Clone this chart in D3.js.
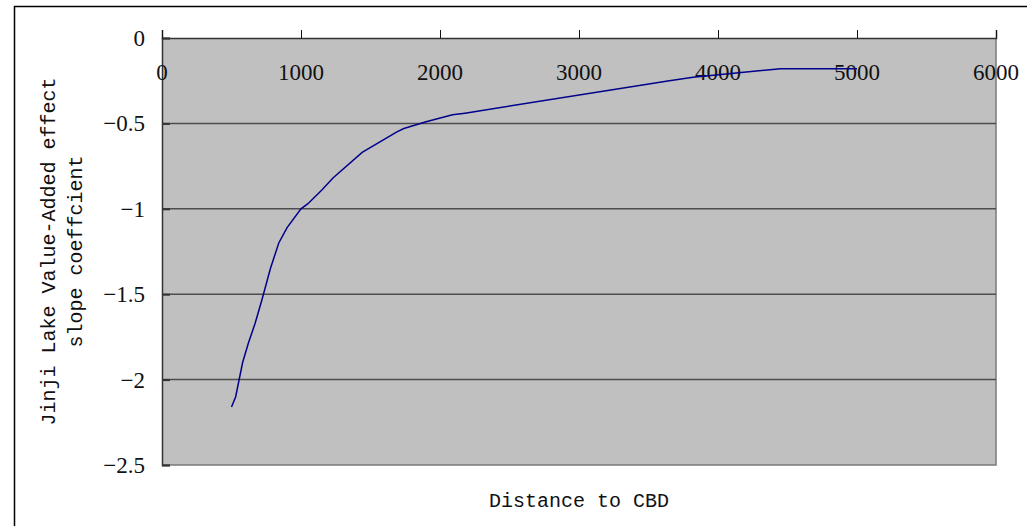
<!DOCTYPE html>
<html>
<head>
<meta charset="utf-8">
<script src="https://cdn.jsdelivr.net/npm/d3@7"></script>
<style>
  html, body { margin: 0; padding: 0; background: #fff; }
  svg { display: block; }
</style>
</head>
<body>
<svg id="chart" width="1027" height="526"></svg>
<script>
// Distance to CBD (m) and the fitted slope coefficient at each distance
const distance = [500, 530, 580, 620, 670, 720, 780, 840, 900, 1000, 1050, 1150, 1230,
                  1440, 1690, 1740, 1900, 2090, 2180, 3650, 3820, 4450, 5000];
const coefficient = [-2.16, -2.10, -1.90, -1.79, -1.67, -1.53, -1.35, -1.20, -1.11, -1.00,
                     -0.97, -0.89, -0.82, -0.67, -0.55, -0.53, -0.49, -0.45, -0.44,
                     -0.25, -0.23, -0.18, -0.18];

const xTicks = [0, 1000, 2000, 3000, 4000, 5000, 6000];
const yTicks = [0, -0.5, -1, -1.5, -2, -2.5];
const yTickLabels = ["0", "\u22120.5", "\u22121", "\u22121.5", "\u22122", "\u22122.5"];

const xTitle = "Distance to CBD";
const yTitleLines = ["Jinji Lake Value-Added effect", "slope coeffcient"];

const svg = d3.select("#chart");
const plot = { left: 162, right: 996, top: 38, bottom: 465 };

const x = d3.scaleLinear().domain([0, 6000]).range([plot.left, plot.right]);
const y = d3.scaleLinear().domain([0, -2.5]).range([plot.top, plot.bottom]);

// outer frame of the chart area
svg.append("path")
  .attr("d", `M14.5,540 V6.5 H1040`)
  .attr("fill", "none").attr("stroke", "#000").attr("stroke-width", 1.5);

// plot background
svg.append("rect")
  .attr("x", plot.left).attr("y", plot.top)
  .attr("width", plot.right - plot.left).attr("height", plot.bottom - plot.top)
  .attr("fill", "#c0c0c0");

// right and bottom edges of the plot area
svg.append("path")
  .attr("d", `M${plot.right},${plot.top} V${plot.bottom} H${plot.left}`)
  .attr("fill", "none").attr("stroke", "#7a7a7a").attr("stroke-width", 1.5);

// horizontal gridlines
svg.append("g").selectAll("line")
  .data(yTicks.filter(v => v !== 0 && v !== -2.5))
  .join("line")
  .attr("x1", plot.left).attr("x2", plot.right)
  .attr("y1", d => y(d)).attr("y2", d => y(d))
  .attr("stroke", "#4d4d4d").attr("stroke-width", 1.5);

// y axis (ticks point into the plot)
const yAxis = svg.append("g")
  .attr("transform", `translate(${plot.left},0)`)
  .call(d3.axisRight(y).tickValues(yTicks).tickSize(8).tickFormat(""));
yAxis.select(".domain").attr("stroke", "#333").attr("stroke-width", 1.5);
yAxis.selectAll(".tick line").attr("stroke", "#333").attr("stroke-width", 2);

svg.append("g").selectAll("text")
  .data(yTicks)
  .join("text")
  .attr("x", 145)
  .attr("y", d => y(d) + 8)
  .attr("text-anchor", "end")
  .attr("font-family", "'Liberation Serif', serif")
  .attr("font-size", 23)
  .attr("fill", "#111")
  .text((d, i) => yTickLabels[i]);

// x axis along the top, ticks pointing outward
const xAxis = svg.append("g")
  .attr("transform", `translate(0,${plot.top})`)
  .call(d3.axisTop(x).tickValues(xTicks).tickSize(8).tickFormat(""));
xAxis.select(".domain").attr("stroke", "#333").attr("stroke-width", 1.5);
xAxis.selectAll(".tick line").attr("stroke", "#111").attr("stroke-width", 1);

svg.append("g").selectAll("text")
  .data(xTicks)
  .join("text")
  .attr("x", d => x(d))
  .attr("y", 80)
  .attr("text-anchor", "middle")
  .attr("font-family", "'Liberation Serif', serif")
  .attr("font-size", 23)
  .attr("fill", "#111")
  .text(d => String(d));

// coefficient curve
const line = d3.line()
  .x((d, i) => x(distance[i]))
  .y(d => y(d));
svg.append("path")
  .datum(coefficient)
  .attr("d", line)
  .attr("fill", "none")
  .attr("stroke", "#00008b")
  .attr("stroke-width", 1.5);

// axis titles
svg.append("text")
  .attr("x", (plot.left + plot.right) / 2)
  .attr("y", 507)
  .attr("text-anchor", "middle")
  .attr("font-family", "'Liberation Mono', monospace")
  .attr("font-size", 20)
  .attr("fill", "#111")
  .text(xTitle);

const yTitle = svg.append("text")
  .attr("transform", `translate(55,${(plot.top + plot.bottom) / 2}) rotate(-90)`)
  .attr("text-anchor", "middle")
  .attr("font-family", "'Liberation Mono', monospace")
  .attr("font-size", 20)
  .attr("fill", "#111");
yTitle.selectAll("tspan")
  .data(yTitleLines)
  .join("tspan")
  .attr("x", 0)
  .attr("dy", (d, i) => i === 0 ? 0 : 27)
  .text(d => d);
</script>
</body>
</html>
